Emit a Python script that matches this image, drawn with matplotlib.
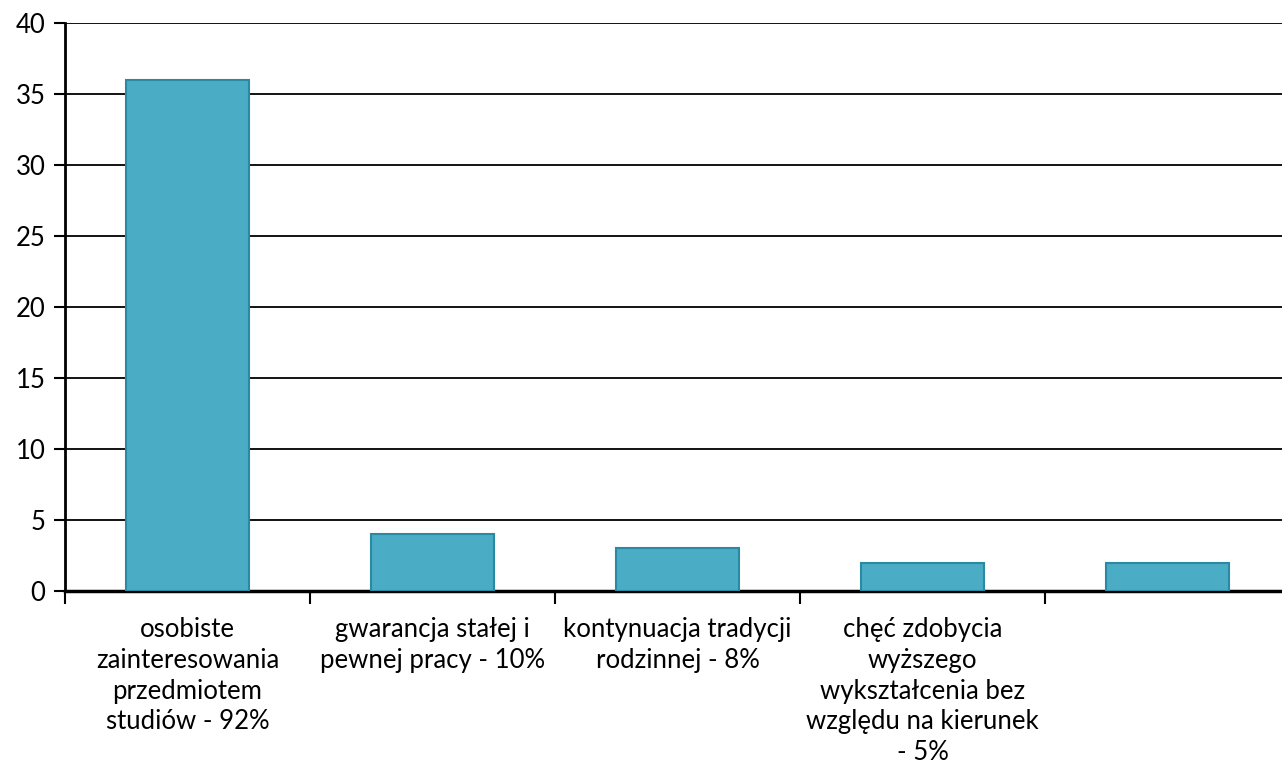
import matplotlib
matplotlib.use('Agg')
import matplotlib.pyplot as plt
import numpy as np

# Data
categories = [
    "osobiste\nzainteresowania\nprzedmiotem\nstudiów - 92%",
    "gwarancja stałej i\npewnej pracy - 10%",
    "kontynuacja tradycji\nrodzinnej - 8%",
    "chęć zdobycia\nwyższego\nwykształcenia bez\nwzględu na kierunek\n- 5%",
    "",
]
values = [36, 4, 3, 2, 2]
y_ticks = [0, 5, 10, 15, 20, 25, 30, 35, 40]

plt.rcParams['font.family'] = ['Lato', 'DejaVu Sans']

fig = plt.figure(figsize=(12.82, 7.74), dpi=100)
ax = fig.add_axes([65 / 1282, (774 - 591) / 774, (1282 - 65) / 1282, (591 - 23) / 774])

x = np.arange(len(values))
ax.set_axisbelow(True)
ax.yaxis.grid(True, color='black', linewidth=1.3)
ax.bar(x, values, width=0.5, color='#4bacc6', edgecolor='#2a8aa3', linewidth=1.5, zorder=3)

ax.set_yticks(y_ticks)
ax.set_ylim(0, 40)

# category boundary ticks, labels centred on the bars
ax.set_xticks(np.arange(len(values)) - 0.5, minor=False)
ax.set_xticklabels([])
ax.tick_params(axis='x', direction='out', length=9, width=1.5, color='black')
ax.set_xticks(x, minor=True)
ax.set_xticklabels(categories, minor=True, fontsize=18.5, linespacing=1.28)
ax.tick_params(axis='x', which='minor', length=0, pad=19)
ax.tick_params(axis='y', direction='out', length=8, width=1.5, labelsize=18.5, pad=6)
ax.set_xlim(-0.5, 4.467)

for s in ['top', 'right']:
    ax.spines[s].set_visible(False)
ax.spines['left'].set_linewidth(2)
ax.spines['bottom'].set_linewidth(2.5)

fig.savefig('out.png', dpi=100)
